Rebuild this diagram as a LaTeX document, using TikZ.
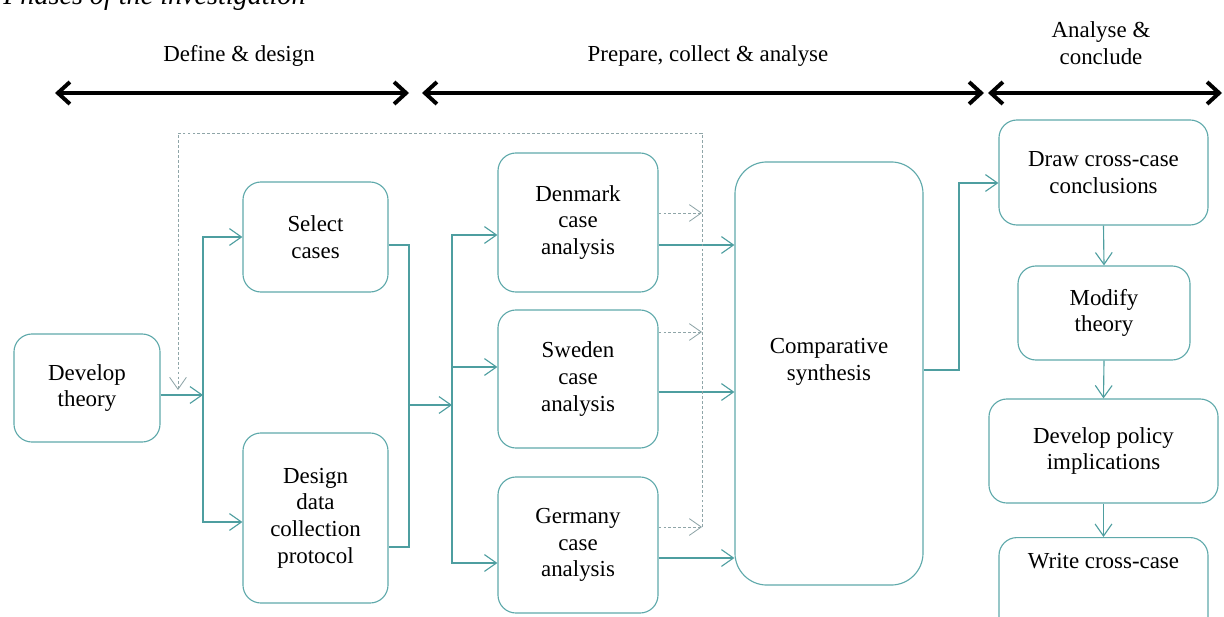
\documentclass[tikz,border=0pt]{standalone}
\usepackage{fontspec}
\setmainfont{Liberation Serif}
\usetikzlibrary{arrows.meta, positioning, calc}
\definecolor{CTeal}{HTML}{5FA9AB}
\definecolor{CLink}{HTML}{4E9EA0}
\definecolor{CLoop}{HTML}{8FA5A8}
\newcommand{\boxfont}{\fontsize{16.3}{19}\selectfont}
\newcommand{\titlefont}{\fontsize{20}{24}\selectfont\itshape}

\tikzset{
    box/.style={draw=CTeal, line width=0.8pt, rounded corners=0.45cm, align=center, font=\boxfont, inner sep=0pt},
    link/.style={CLink, line width=0.8pt},
    flow/.style={link, -{Straight Barb[length=3mm, width=4.2mm]}},
    loopline/.style={CLoop, line width=0.6pt, dash pattern=on 2pt off 1.5pt},
    loopflow/.style={loopline, -{Straight Barb[length=3mm, width=4.2mm]}},
    phase/.style={black, line width=2.8pt, {Straight Barb[length=3mm, width=5.5mm]}-{Straight Barb[length=3mm, width=5.5mm]}},
    phaselabel/.style={font=\boxfont, align=center}
}

\begin{document}
\begin{tikzpicture}[x=0.025cm, y=-0.025cm]
    \useasboundingbox (0,0) rectangle (1224,617);

    % Title (cut off at the top)
    \node[font=\titlefont, anchor=base west, inner sep=0pt] (title) at (3,5) {Phases of the investigation};

    % Phases
    \node[phaselabel] (lbldefine) at (239,56) {Define \& design};
    \node[phaselabel] (lblprepare) at (708,56) {Prepare, collect \& analyse};
    \node[phaselabel] (lblconclude) at (1101,43) {Analyse \&\\conclude};
    \draw[phase] (55,93) -- (409,93);
    \draw[phase] (422,93) -- (984,93);
    \draw[phase] (988,93) -- (1222,93);

    % Boxes
    \node[box, minimum width=3.65cm, minimum height=2.7cm] (theory) at (87,388) {Develop\\theory};
    \node[box, minimum width=3.625cm, minimum height=2.75cm] (select) at (315.5,237) {Select\\cases};
    \node[box, minimum width=3.625cm, minimum height=4.25cm] (design) at (315.5,518) {Design\\data\\collection\\protocol};
    \node[box, minimum width=4cm, minimum height=3.475cm] (denmark) at (578,222.5) {Denmark\\case\\analysis};
    \node[box, minimum width=4cm, minimum height=3.45cm] (sweden) at (578,379) {Sweden\\case\\analysis};
    \node[box, minimum width=4cm, minimum height=3.4cm] (germany) at (578,545) {Germany\\case\\analysis};
    \node[box, rounded corners=0.8cm, minimum width=4.7cm, minimum height=10.575cm] (synth) at (829,373.5) {};
    \node[font=\boxfont, align=center] (synthtext) at (829,362) {Comparative\\synthesis};
    \node[box, minimum width=5.225cm, minimum height=2.625cm] (drawc) at (1103.5,172.5) {Draw cross-case\\conclusions};
    \node[box, minimum width=4.3cm, minimum height=2.35cm] (modify) at (1104,313) {Modify\\theory};
    \node[box, minimum width=5.725cm, minimum height=2.6cm] (policy) at (1103.5,451) {Develop policy\\implications};
    \node[box, anchor=north, minimum width=5.225cm, text height=0.775cm, text depth=1.8cm] (write) at (1103.5,537) {Write cross-case};

    % Define & design connectors
    \coordinate (splitA) at (203,395);
    \draw[flow] (theory.east |- splitA) -- (splitA);
    \draw[flow] (splitA) |- (select.west);
    \draw[flow] (splitA) |- (design.west |- 0,522);

    \coordinate (joinA) at (409,405);
    \coordinate (splitB) at (452,405);
    \draw[link] (select.east |- 0,245) -| (joinA) |- (design.east |- 0,547);
    \draw[flow] (joinA) -- (splitB);
    \draw[flow] (splitB) |- (denmark.west |- 0,235);
    \draw[flow] (splitB) |- (sweden.west |- 0,367);
    \draw[flow] (splitB) |- (germany.west |- 0,563);

    % Cases into synthesis
    \draw[flow] (denmark.east |- 0,245) -- (synth.west |- 0,245);
    \draw[flow] (sweden.east |- 0,392) -- (synth.west |- 0,392);
    \draw[flow] (germany.east |- 0,558) -- (synth.west |- 0,558);

    % Feedback loop (dashed)
    \coordinate (loopB) at (702,527);
    \coordinate (loopR) at (702,133);
    \coordinate (loopL) at (178,133);
    \draw[loopflow] (denmark.east |- 0,213) -- (loopR |- 0,213);
    \draw[loopflow] (sweden.east |- 0,332) -- (loopR |- 0,332);
    \draw[loopflow] (germany.east |- 0,527) -- (loopB);
    \draw[loopflow] (loopB) -- (loopR) -- (loopL) -- (loopL |- 0,390);

    % Synthesis to conclusions
    \draw[flow] (synth.east |- 0,370) -- (959,370) |- (drawc.west |- 0,183);
    \draw[flow] (drawc.south) -- (modify.north);
    \draw[flow] (modify.south) -- (policy.north);
    \draw[flow] (policy.south) -- (write.north);

\end{tikzpicture}
\end{document}
